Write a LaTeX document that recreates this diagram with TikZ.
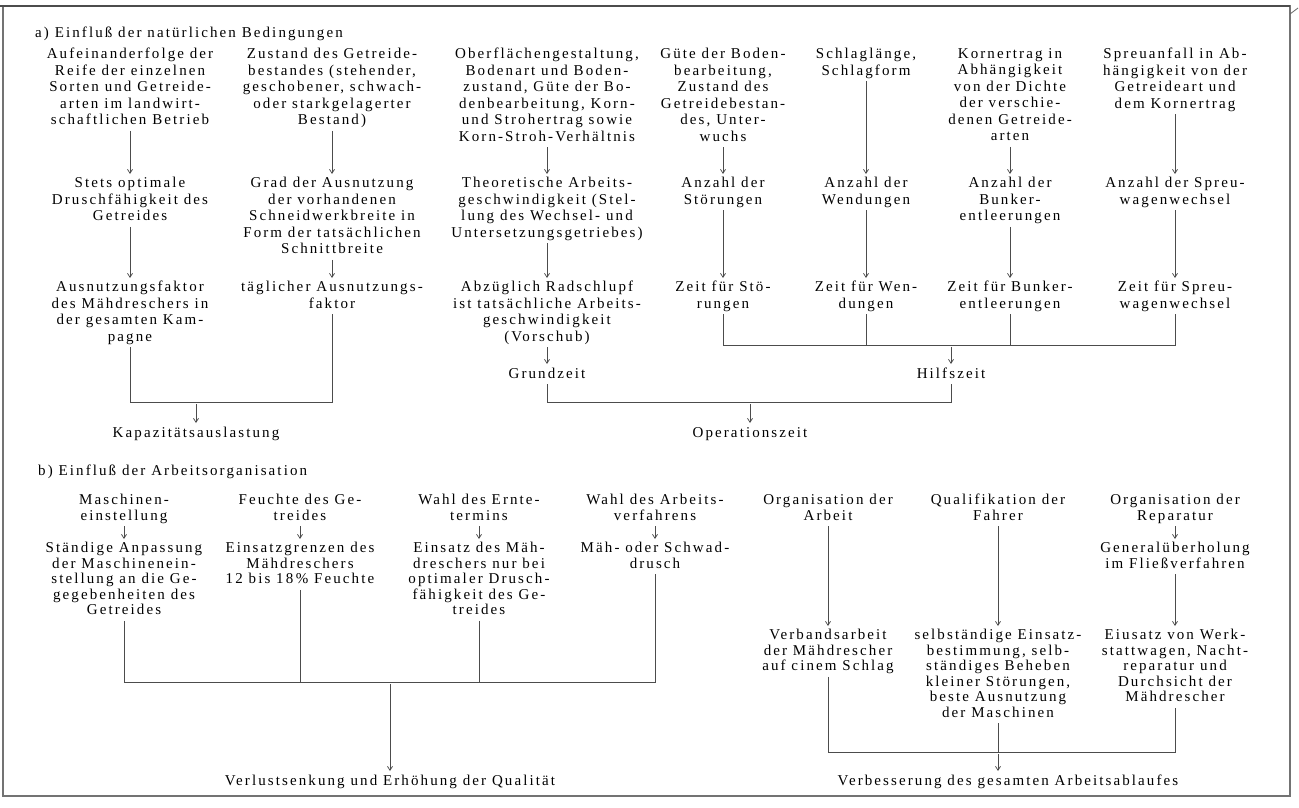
\documentclass[tikz,border=0pt]{standalone}
\usepackage{fontspec}
\setmainfont{Liberation Serif}[LetterSpace=14]
\usetikzlibrary{arrows.meta}
\begin{document}
\begin{tikzpicture}[x=1pt,y=-1pt,
  t/.style={anchor=north, inner sep=0pt, align=center, yshift=6pt, text=black,
    font=\fontsize{15}{16.5}\selectfont,
    execute at begin node={\rule{0pt}{11pt}}, execute at end node={\rule[-4pt]{0pt}{4pt}}},
  tb/.style={t, font=\fontsize{15}{15.5}\selectfont},
  ttl/.style={anchor=base west, inner sep=0pt, text=black, font=\fontsize{15}{16.5}\selectfont},
  ln/.style={draw=black!70, line width=0.75pt},
  drop/.style={ln, shorten <=2pt},
  joinl/.style={ln, shorten <=2pt, shorten >=2pt},
  ar/.style={ln, shorten <=2pt, shorten >=3pt, -{Straight Barb[length=4pt,width=5pt]}},
  frame/.style={draw=black!55, line width=1.2pt}]
\useasboundingbox (0,0) rectangle (1299,808);
\fill[white] (0,0) rectangle (1299,808);
\draw[frame] (3,6) rectangle (1290,796);
\draw[black!70, line width=1.3pt] (0,6) -- (1290,6);
\draw[black!60, line width=0.8pt] (1290,14) -- (1298,8);

% ---------- part a ----------
\node[ttl] (ta) at (35,38) {a) Einfluß der natürlichen Bedingungen};

\node[t] (a1) at (130,54) {Aufeinanderfolge der\\Reife der einzelnen\\Sorten und Getreide-\\arten im landwirt-\\schaftlichen Betrieb};
\node[t] (a2) at (332,54) {Zustand des Getreide-\\bestandes (stehender,\\geschobener, schwach-\\oder starkgelagerter\\Bestand)};
\node[t] (a3) at (547,54) {Oberflächengestaltung,\\Bodenart und Boden-\\zustand, Güte der Bo-\\denbearbeitung, Korn-\\und Strohertrag sowie\\Korn-Stroh-Verhältnis};
\node[t] (a4) at (723,54) {Güte der Boden-\\bearbeitung,\\Zustand des\\Getreidebestan-\\des, Unter-\\wuchs};
\node[t] (a5) at (866,54) {Schlaglänge,\\Schlagform};
\node[t] (a6) at (1010,54) {Kornertrag in\\Abhängigkeit\\von der Dichte\\der verschie-\\denen Getreide-\\arten};
\node[t] (a7) at (1175,54) {Spreuanfall in Ab-\\hängigkeit von der\\Getreideart und\\dem Kornertrag};

\node[t] (m1) at (130,183) {Stets optimale\\Druschfähigkeit des\\Getreides};
\node[t] (m2) at (332,183) {Grad der Ausnutzung\\der vorhandenen\\Schneidwerkbreite in\\Form der tatsächlichen\\Schnittbreite};
\node[t] (m3) at (547,183) {Theoretische Arbeits-\\geschwindigkeit (Stel-\\lung des Wechsel- und\\Untersetzungsgetriebes)};
\node[t] (m4) at (723,183) {Anzahl der\\Störungen};
\node[t] (m5) at (866,183) {Anzahl der\\Wendungen};
\node[t] (m6) at (1010,183) {Anzahl der\\Bunker-\\entleerungen};
\node[t] (m7) at (1175,183) {Anzahl der Spreu-\\wagenwechsel};

\node[t] (z1) at (130,287) {Ausnutzungsfaktor\\des Mähdreschers in\\der gesamten Kam-\\pagne};
\node[t] (z2) at (332,287) {täglicher Ausnutzungs-\\faktor};
\node[t] (z3) at (547,287) {Abzüglich Radschlupf\\ist tatsächliche Arbeits-\\geschwindigkeit\\(Vorschub)};
\node[t] (z4) at (723,287) {Zeit für Stö-\\rungen};
\node[t] (z5) at (866,287) {Zeit für Wen-\\dungen};
\node[t] (z6) at (1010,287) {Zeit für Bunker-\\entleerungen};
\node[t] (z7) at (1175,287) {Zeit für Spreu-\\wagenwechsel};

\node[t] (grund) at (547,373) {Grundzeit};
\node[t] (hilf) at (951,373) {Hilfszeit};
\node[t] (kap) at (196,432) {Kapazitätsauslastung};
\node[t] (op) at (750,432) {Operationszeit};

\foreach \i in {1,...,7} {
  \draw[ar] (a\i.south) -- (m\i.north);
  \draw[ar] (m\i.south) -- (z\i.north);
}
\draw[ar] (z3.south) -- (grund.north);

\coordinate (k1) at (130,402);
\coordinate (k2) at (332,402);
\coordinate (kk) at (196,402);
\draw[joinl] (z1.south) -- (k1) -- (k2) -- (z2.south);
\draw[ar] (kk) -- (kap.north);

\coordinate (h4) at (723,345);
\coordinate (h7) at (1175,345);
\coordinate (hh) at (951,345);
\draw[joinl] (z4.south) -- (h4) -- (h7) -- (z7.south);
\draw[drop] (z5.south) -- (z5.south |- h4);
\draw[drop] (z6.south) -- (z6.south |- h4);
\draw[ar] (hh) -- (hilf.north);

\coordinate (o3) at (547,402);
\coordinate (o4) at (951,402);
\coordinate (oo) at (750,402);
\draw[joinl] (grund.south) -- (o3) -- (o4) -- (hilf.south);
\draw[ar] (oo) -- (op.north);

% ---------- part b ----------
\node[ttl] (tb) at (38,475) {b) Einfluß der Arbeitsorganisation};

\node[tb] (p1) at (124,500) {Maschinen-\\einstellung};
\node[tb] (p2) at (300,500) {Feuchte des Ge-\\treides};
\node[tb] (p3) at (479,500) {Wahl des Ernte-\\termins};
\node[tb] (p4) at (655,500) {Wahl des Arbeits-\\verfahrens};
\node[tb] (p5) at (828,500) {Organisation der\\Arbeit};
\node[tb] (p6) at (998,500) {Qualifikation der\\Fahrer};
\node[tb] (p7) at (1175,500) {Organisation der\\Reparatur};

\node[tb] (q1) at (124,548) {Ständige Anpassung\\der Maschinenein-\\stellung an die Ge-\\gegebenheiten des\\Getreides};
\node[tb] (q2) at (300,548) {Einsatzgrenzen des\\Mähdreschers\\12 bis 18\,\% Feuchte};
\node[tb] (q3) at (479,548) {Einsatz des Mäh-\\dreschers nur bei\\optimaler Drusch-\\fähigkeit des Ge-\\treides};
\node[tb] (q4) at (655,548) {Mäh- oder Schwad-\\drusch};
\node[tb] (q7) at (1175,548) {Generalüberholung\\im Fließverfahren};

\node[tb] (r5) at (828,635) {Verbandsarbeit\\der Mähdrescher\\auf cinem Schlag};
\node[tb] (r6) at (998,635) {selbständige Einsatz-\\bestimmung, selb-\\ständiges Beheben\\kleiner Störungen,\\beste Ausnutzung\\der Maschinen};
\node[tb] (r7) at (1175,635) {Eiusatz von Werk-\\stattwagen, Nacht-\\reparatur und\\Durchsicht der\\Mähdrescher};

\node[tb] (verl) at (390,780) {Verlustsenkung und Erhöhung der Qualität};
\node[tb] (verb) at (1008,780) {Verbesserung des gesamten Arbeitsablaufes};

\foreach \i in {1,2,3,4,7} { \draw[ar] (p\i.south) -- (q\i.north); }
\draw[ar] (p5.south) -- (r5.north);
\draw[ar] (p6.south) -- (r6.north);
\draw[ar] (q7.south) -- (r7.north);

\coordinate (v1) at (124,682);
\coordinate (v4) at (655,682);
\coordinate (vv) at (390,682);
\draw[joinl] (q1.south) -- (v1) -- (v4) -- (q4.south);
\draw[drop] (q2.south) -- (q2.south |- v1);
\draw[drop] (q3.south) -- (q3.south |- v1);
\draw[ar] (vv) -- (verl.north);

\coordinate (w5) at (828,752);
\coordinate (w7) at (1175,752);
\coordinate (ww) at (998,752);
\draw[joinl] (r5.south) -- (w5) -- (w7) -- (r7.south);
\draw[drop] (r6.south) -- (r6.south |- w5);
\draw[ar] (ww) -- (ww |- verb.north);
\end{tikzpicture}
\end{document}
